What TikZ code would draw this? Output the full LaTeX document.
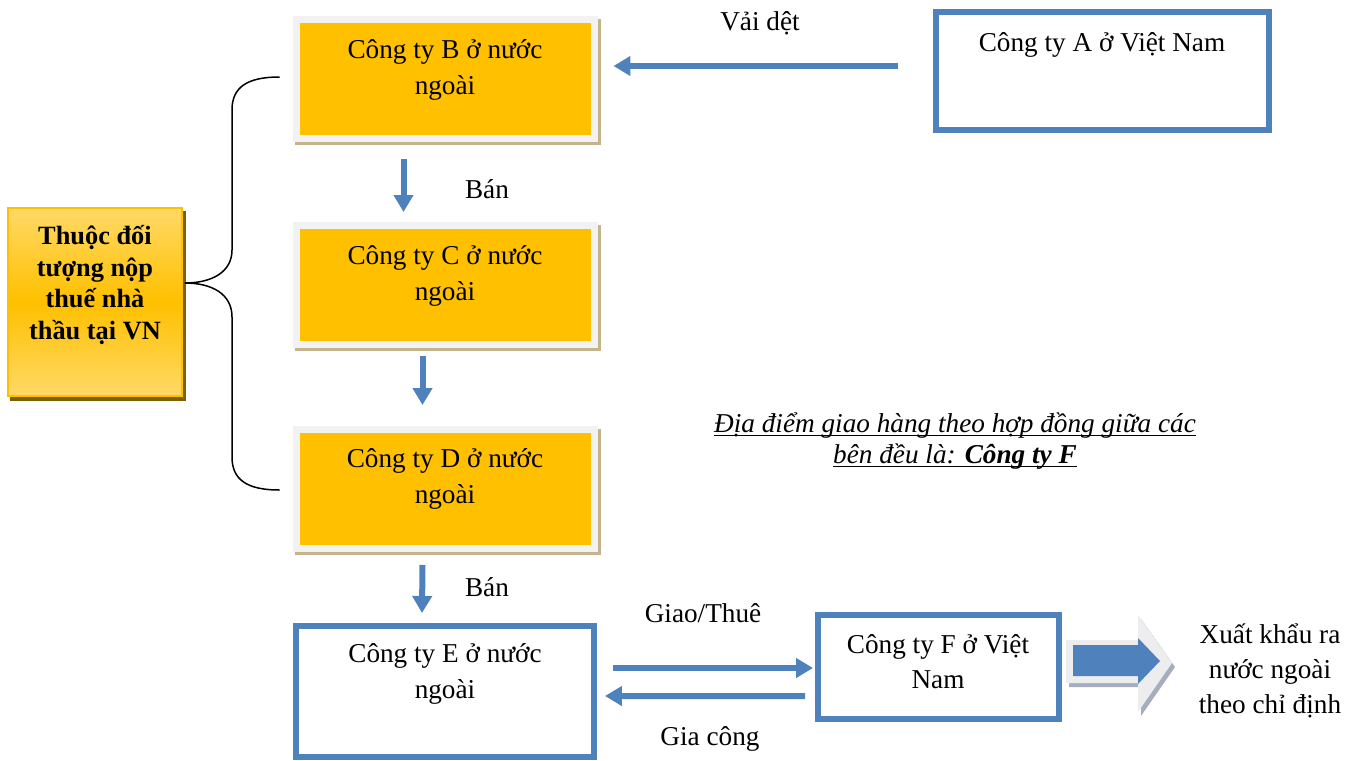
\documentclass[tikz,border=0pt]{standalone}
\usepackage{fontspec}
\setmainfont{Liberation Serif}
\usetikzlibrary{arrows.meta,calc,backgrounds}

\newcommand{\noteline}[1]{\setbox0\hbox{#1}\rlap{\rule[-2.2pt]{\wd0}{0.6pt}}\box0}

\definecolor{boxorange}{HTML}{FFC000}
\definecolor{goldlight}{HTML}{FFD966}
\definecolor{darkgold}{HTML}{7F6000}
\definecolor{framegrey}{HTML}{F2F2F2}
\definecolor{shadowtan}{HTML}{C4B48C}
\definecolor{blueline}{HTML}{4F81BD}
\definecolor{arrowgrey}{HTML}{EDEDED}
\definecolor{arrowshade}{HTML}{A5AEBF}

\tikzset{
  orangebox/.style={draw=framegrey, line width=0.14cm, fill=boxorange,
    minimum width=5.98cm, minimum height=2.38cm},
  bluebox/.style={draw=blueline, line width=0.12cm, fill=white},
  taxbox/.style={draw=boxorange, line width=0.03cm, top color=goldlight,
    bottom color=goldlight, middle color=boxorange,
    minimum width=3.48cm, minimum height=3.76cm},
  boxtext/.style={align=center, inner sep=0pt, font=\fontsize{15.5}{20}\selectfont},
  flow/.style={draw=blueline, line width=0.12cm,
    -{Triangle[width=0.38cm,length=0.34cm]}},
  brace line/.style={draw=black, line width=0.03cm},
}

\begin{document}
\begin{tikzpicture}[x=0.02cm,y=-0.02cm]
\useasboundingbox (0,0) rectangle (1360,761);

% boxes
\node[taxbox] (tax) at (95,302) {};
\node[orangebox] (B) at (445.5,79) {};
\node[orangebox] (C) at (445.5,285) {};
\node[orangebox] (D) at (445.5,489) {};
\node[bluebox, minimum width=6.66cm, minimum height=2.36cm] (A) at (1102.5,71) {};
\node[bluebox, minimum width=5.96cm, minimum height=2.62cm] (E) at (445,691.5) {};
\node[bluebox, minimum width=4.82cm, minimum height=2.08cm] (F) at (938.5,667) {};

% shadows
\begin{scope}[on background layer]
  \fill[darkgold] ($(tax.south west)+(3,4)$) rectangle ($(tax.north east)+(3,4)$);
  \foreach \b in {B,C,D}
    \fill[shadowtan] ($(\b.south west)+(2,3)$) rectangle ($(\b.north east)+(3,3)$);
\end{scope}

% texts
\node[boxtext, font=\fontsize{15}{18}\selectfont\bfseries] (taxtxt) at (95,285)
  {Thuộc đối\\tượng nộp\\thuế nhà\\thầu tại VN};
\node[boxtext] (Btxt) at (445,70) {Công ty B ở nước\\ngoài};
\node[boxtext] (Ctxt) at (445,276) {Công ty C ở nước\\ngoài};
\node[boxtext] (Dtxt) at (445,479) {Công ty D ở nước\\ngoài};
\node[boxtext] (Atxt) at (1102,45) {Công ty A ở Việt Nam};
\node[boxtext] (Etxt) at (445,674) {Công ty E ở nước\\ngoài};
\node[boxtext] (Ftxt) at (938,662) {Công ty F ở Việt\\Nam};
\node[boxtext] (exporttxt) at (1270,671) {Xuất khẩu ra\\nước ngoài\\theo chỉ định};
\node[boxtext, font=\fontsize{15.5}{17.5}\selectfont\itshape] (note) at (955,441)
  {\noteline{Địa điểm giao hàng theo hợp đồng giữa các}\\
   \noteline{bên đều là: \textbf{Công ty F}}};

% labels
\node[boxtext] (vai) at (760,23) {Vải dệt};
\node[boxtext] (ban1) at (487,189) {Bán};
\node[boxtext] (ban2) at (487,587) {Bán};
\node[boxtext] (giao) at (703,613) {Giao/Thuê};
\node[boxtext] (giacong) at (710,739) {Gia công};

% connectors
\draw[flow] ($(A.west)+(-35,-5)$) -- ($(B.east)+(15,-13)$);
\draw[flow] ($(B.south)+(-42,17)$) -- ($(C.north)+(-42,-10)$);
\draw[flow] ($(C.south)+(-23,8)$) -- ($(D.north)+(-23,-21)$);
\draw[flow] ($(D.south)+(-23,13)$) -- ($(E.north)+(-23,-10)$);
\draw[flow] ($(E.east)+(16,-23.5)$) -- ($(F.west)+(-2,1)$);
\draw[flow] ($(F.west)+(-10,29)$) -- ($(E.east)+(8,4.5)$);

% brace
\coordinate (braceTop) at ($(B.west)+(-13,-2)$);
\coordinate (braceBot) at ($(D.west)+(-13,1)$);
\coordinate (braceTip) at ($(tax.east)+(2,-19)$);
\draw[brace line] (braceTop) .. controls (246,77) and (232,88) .. (232,110)
  -- (232,250) .. controls (232,272) and (212,283) .. (braceTip)
  .. controls (212,283) and (232,294) .. (232,317)
  -- (232,457) .. controls (232,479) and (246,490) .. (braceBot);

% export arrow
\fill[arrowshade] (1069,644) -- (1141,644) -- (1141,619) -- (1175,667)
  -- (1141,716) -- (1141,687) -- (1069,687) -- cycle;
\fill[arrowgrey] (1066,640) -- (1138,640) -- (1138,615) -- (1172,663)
  -- (1138,712) -- (1138,683) -- (1066,683) -- cycle;
\fill[blueline] (1073,645) -- (1138,645) -- (1138,638) -- (1160,661)
  -- (1138,684) -- (1138,676) -- (1073,676) -- cycle;
\end{tikzpicture}
\end{document}
